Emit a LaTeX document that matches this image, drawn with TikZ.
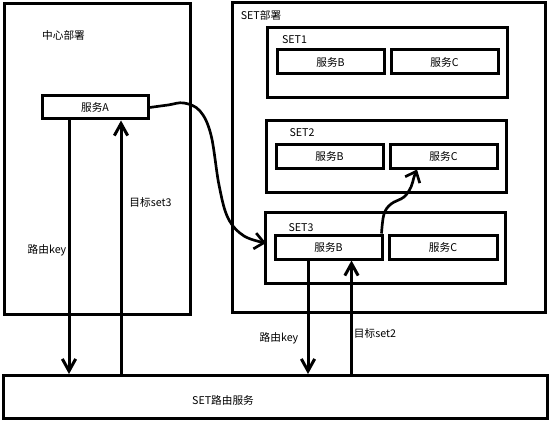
\documentclass[tikz,border=0pt]{standalone}
\usepackage{fontspec}
\setmainfont{Noto Sans CJK SC}
\usetikzlibrary{fit,arrows.meta,calc}
\begin{document}
\begin{tikzpicture}[x=0.75pt,y=-0.75pt,
  font=\fontsize{8pt}{10pt}\selectfont,
  box/.style={draw, line width=2.25pt, inner sep=0pt},
  txt/.style={inner sep=0pt},
  arr/.style={line width=2.25pt, -{Straight Barb[length=9pt,width=10pt]}},
  curv/.style={line width=2pt, -{Straight Barb[length=7pt,width=12pt]}}]
\useasboundingbox (0,0) rectangle (552,424);
\fill[white] (0,0) rectangle (552,424);
% central deployment
\node[box, fit={(4,4) (190,314)}] (center) {};
\node[txt] (tcenter) at (63.5,35) {中心部署};
\node[box, fit={(42,96) (148,119)}, label={center:服务A}] (A) {};
% SET deployment
\node[box, fit={(232,3) (545.5,312)}] (setdep) {};
\node[txt] (tsetdep) at (261,15) {SET部署};
\node[box, fit={(267,28) (507,98)}] (set1) {};
\node[txt] (tset1) at (294.5,40) {SET1};
\node[box, fit={(277,50) (384,74)}, label={center:服务B}] (B1) {};
\node[box, fit={(391,50) (498,74)}, label={center:服务C}] (C1) {};
\node[box, fit={(266,121) (506,192)}] (set2) {};
\node[txt] (tset2) at (302,133) {SET2};
\node[box, fit={(276,144) (383,168)}, label={center:服务B}] (B2) {};
\node[box, fit={(390,144) (497,168)}, label={center:服务C}] (C2) {};
\node[box, fit={(265,212) (505,283)}] (set3) {};
\node[txt] (tset3) at (301,228) {SET3};
\node[box, fit={(275,235) (382,259)}, label={center:服务B}] (B3) {};
\node[box, fit={(389,235) (497,259)}, label={center:服务C}] (C3) {};
% routing service
\node[box, fit={(3,375.5) (547,418.5)}] (route) {};
\node[txt] (troute) at (223,400) {SET路由服务};
% vertical connectors
\coordinate (x1) at (69,0);
\coordinate (x2) at (121,0);
\coordinate (x3) at (308,0);
\coordinate (x4) at (351.5,0);
\coordinate (x5) at (417,0);
\draw[arr] (A.south -| x1) -- (route.north -| x1);
\draw[arr] (route.north -| x2) -- (A.south -| x2);
\draw[arr] (B3.south -| x3) -- (route.north -| x3);
\draw[arr] (route.north -| x4) -- (B3.south -| x4);
\node[txt] (lk1) at (47,250) {路由key};
\node[txt] (ls3) at (150.5,202) {目标set3};
\node[txt] (lk2) at (279,338) {路由key};
\node[txt] (ls2) at (375,333) {目标set2};
% curved connectors
\coordinate (e1) at (266,243);
\draw[curv] plot[smooth, tension=0.6] coordinates {(A.east) (168,105) (184,103) (200,111) (211,135) (219,185) (228,218) (244,236) (e1)};
\draw[curv] plot[smooth, tension=0.6] coordinates {([xshift=-1.5pt]B3.north east) (384,214) (391,204) (404,197) (411,187) (414,177) (C2.south -| x5)};
\end{tikzpicture}
\end{document}
